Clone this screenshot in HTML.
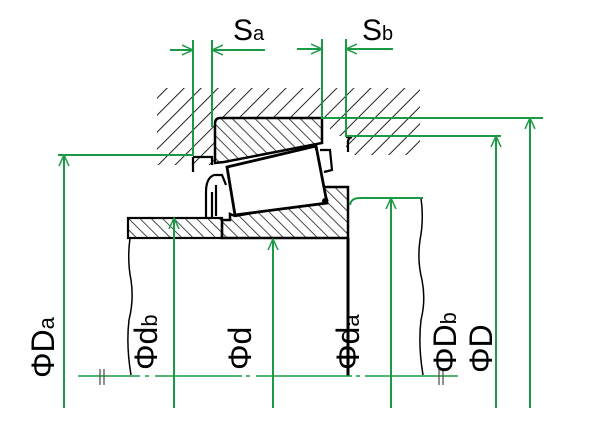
<!DOCTYPE html>
<html><head><style>
html,body{margin:0;padding:0;background:#fff;width:608px;height:426px;overflow:hidden}
text{font-family:"Liberation Sans",sans-serif;fill:#000}
</style></head><body>
<svg width="608" height="426" viewBox="0 0 608 426" xmlns="http://www.w3.org/2000/svg">
<defs>
<pattern id="h1" patternUnits="userSpaceOnUse" width="12" height="12" patternTransform="rotate(45)">
<line x1="0" y1="0" x2="0" y2="12" stroke="#222" stroke-width="2"/></pattern>
<pattern id="h2" patternUnits="userSpaceOnUse" width="8" height="8" patternTransform="rotate(-45)">
<line x1="0" y1="0" x2="0" y2="8" stroke="#111" stroke-width="1.5"/></pattern>
<marker id="a" viewBox="0 0 12 12" refX="11" refY="6" markerWidth="12" markerHeight="12" markerUnits="userSpaceOnUse" orient="auto">
<path d="M0,1 L11,6 L0,11" fill="none" stroke="#1a9a45" stroke-width="1.5"/></marker>
</defs>
<!-- housing hatch -->
<path d="M157,88 H420 V155 H346 V136 H330 V118 H216 V165 H157 Z" fill="url(#h1)"/>
<!-- outer ring -->
<path d="M220,118 H322 V143 L224,162 L215,163 V124 Q215,118 220,118 Z" fill="url(#h2)" stroke="#000" stroke-width="2.5"/>
<!-- shaft band & cone -->
<rect x="128" y="218" width="94" height="20" fill="url(#h2)" stroke="#000" stroke-width="2.2"/>
<path d="M222,220 V238 H348 V187 H322 L327,200 L235,216 L230,214 V220 Z" fill="url(#h2)" stroke="#000" stroke-width="2.5"/>
<!-- roller -->
<path d="M227,167 L316,146 L327,203 L235,215 Z" fill="#fff" stroke="#000" stroke-width="2.8"/>
<circle cx="325" cy="201" r="3" fill="#000"/>
<!-- cage bits -->
<path d="M214,175 Q206,178 206,192 V218 M214,175 H222 L226,185 M212,192 V218 M216,185 V216" fill="none" stroke="#000" stroke-width="2.2"/>
<path d="M320,150 L330,150 L332,170 L324,172 M316,150 V146" fill="none" stroke="#000" stroke-width="2.2"/>
<!-- housing shoulders -->
<path d="M193,157 V172 M193,157 H212 V165" fill="none" stroke="#000" stroke-width="2.2"/>
<path d="M346,137 H352 Q347,138 348,145 V152" fill="none" stroke="#000" stroke-width="2.2"/>
<!-- shaft edges -->
<path d="M130,238 Q127,260 131,280 Q134,300 129,320 Q126,345 131,375" fill="none" stroke="#000" stroke-width="1.5"/>
<path d="M421,198 Q424,220 420,240 Q417,260 422,280 Q426,300 421,320 Q418,345 423,375" fill="none" stroke="#000" stroke-width="1.5"/>
<line x1="348" y1="238" x2="348" y2="376" stroke="#000" stroke-width="3"/>
<!-- green dims -->
<g stroke="#1a9a45" stroke-width="2" fill="none">
<line x1="170" y1="50" x2="193" y2="50" marker-end="url(#a)"/>
<line x1="265" y1="50" x2="212" y2="50" marker-end="url(#a)"/>
<path d="M193,40 V155 H58"/>
<line x1="212" y1="40" x2="212" y2="127"/>
<line x1="297" y1="49" x2="322" y2="49" marker-end="url(#a)"/>
<line x1="393" y1="49" x2="346" y2="49" marker-end="url(#a)"/>
<path d="M322,39 V118 H543"/>
<path d="M346,39 V136 H501"/>
<path d="M350,205 Q351,198 360,198 H423"/>
<line x1="64" y1="408" x2="64" y2="155" marker-end="url(#a)"/>
<line x1="174" y1="408" x2="174" y2="218" marker-end="url(#a)"/>
<line x1="273" y1="408" x2="273" y2="239" marker-end="url(#a)"/>
<line x1="391" y1="408" x2="391" y2="198" marker-end="url(#a)"/>
<line x1="496" y1="408" x2="496" y2="136" marker-end="url(#a)"/>
<line x1="530" y1="408" x2="530" y2="118" marker-end="url(#a)"/>
<path d="M78,376 H140 M145,376 H149 M155,376 H242 M246,376 H250 M256,376 H352 M356,376 H360 M365,376 H458" stroke-width="1.5"/>
<path d="M100,369 V385 M104,369 V385 M439,369 V385 M443,369 V385" stroke="#555" stroke-width="1.3"/>
</g>
<text x="233" y="40" font-size="30">S<tspan font-size="20">a</tspan></text>
<text x="362" y="40" font-size="30">S<tspan font-size="20">b</tspan></text>
<g font-size="32">
<text transform="translate(54,378) rotate(-90)">ΦD<tspan font-size="22">a</tspan></text>
<text transform="translate(157,370) rotate(-90)">Φd<tspan font-size="22">b</tspan></text>
<text transform="translate(251,370) rotate(-90)">Φd</text>
<text transform="translate(359,370) rotate(-90)">Φd<tspan font-size="22">a</tspan></text>
<text transform="translate(456,373) rotate(-90)">ΦD<tspan font-size="22">b</tspan></text>
<text transform="translate(492,373) rotate(-90)">ΦD</text>
</g>
</svg>
</body></html>
